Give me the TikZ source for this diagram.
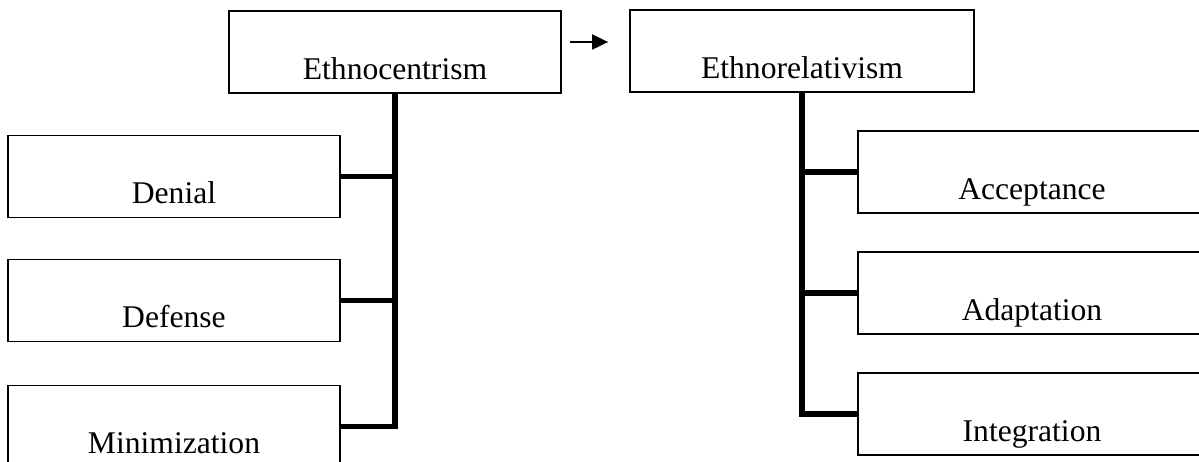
\documentclass[tikz,border=0pt]{standalone}
\usepackage{fontspec}
\setmainfont{Liberation Serif}
\usetikzlibrary{arrows.meta,calc}

\begin{document}
\begin{tikzpicture}[x=0.5pt,y=-0.5pt,
  stagebox/.style={draw,line width=0.9pt,inner sep=0pt,minimum width=#1,
        text height=34pt,text depth=7pt,font=\fontsize{15.8}{18}\selectfont},
  trunk/.style={line width=2.8pt},
  movearrow/.style={line width=1pt,-{Triangle[length=8pt,width=7.5pt]}}]
  \path[use as bounding box,clip] (0,0) rectangle (1199,461);

  % the two sides
  \node[stagebox=166pt] (ethnoc) at (395,52) {Ethnocentrism};
  \node[stagebox=172pt] (ethnorel) at (802,51) {Ethnorelativism};
  \draw[movearrow,shorten <=4pt,shorten >=10.5pt] ([yshift=5pt]ethnoc.east) -- ([yshift=5pt]ethnoc.east -| ethnorel.west);

  % stages of ethnocentrism
  \node[stagebox=166pt] (denial) at (174,176.5) {Denial};
  \node[stagebox=166pt] (defense) at (174,300.5) {Defense};
  \node[stagebox=166pt] (minim) at (174,426.5) {Minimization};

  % stages of ethnorelativism
  \node[stagebox=174pt] (accept) at (1032,172) {Acceptance};
  \node[stagebox=174pt] (adapt) at (1032,293) {Adaptation};
  \node[stagebox=174pt] (integr) at (1032,414) {Integration};

  % trees
  \draw[trunk] (ethnoc.south) -- (ethnoc.south |- minim.east) -- (minim.east);
  \draw[trunk] (denial.east) -- (denial.east -| ethnoc.south);
  \draw[trunk] (defense.east) -- (defense.east -| ethnoc.south);

  \draw[trunk] (ethnorel.south) -- (ethnorel.south |- integr.west) -- (integr.west);
  \draw[trunk] (accept.west) -- (accept.west -| ethnorel.south);
  \draw[trunk] (adapt.west) -- (adapt.west -| ethnorel.south);
\end{tikzpicture}
\end{document}
